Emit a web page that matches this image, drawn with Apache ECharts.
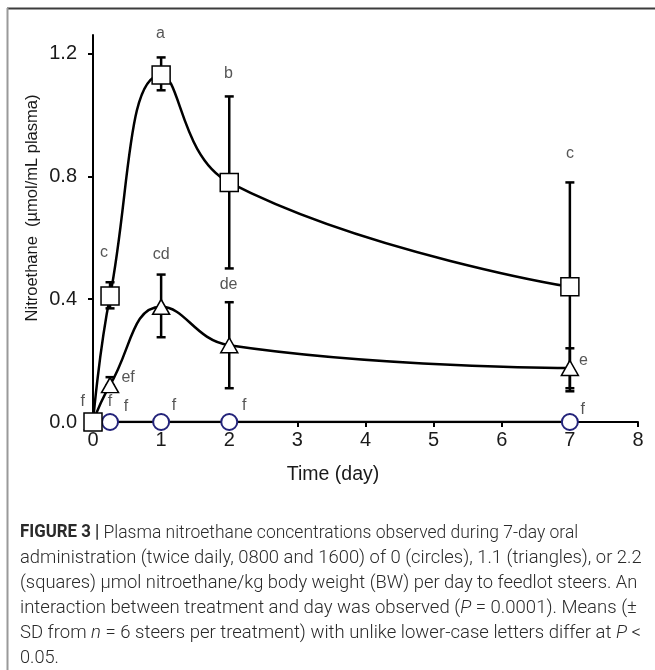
<!DOCTYPE html>
<html><head><meta charset="utf-8">
<script src="https://cdn.jsdelivr.net/npm/echarts@6/dist/echarts.min.js"></script>
<style>html,body{margin:0;padding:0;background:#fff}#c{width:655px;height:670px}</style>
</head><body><div id="c"></div>
<script>
// Time points (day)
const days = [0, 0.25, 1, 2, 7];
// Means (µmol/mL plasma)
const circles = [0, 0, 0, 0, 0];
const triangles = [0, 0.12, 0.375, 0.25, 0.176];
const squares = [0, 0.41, 1.13, 0.78, 0.44];
// SD error bar ends [low, high]
const triLow = [null, 0.12, 0.276, 0.11, 0.11];
const triHigh = [null, 0.146, 0.48, 0.39, 0.24];
const sqLow = [null, 0.37, 1.08, 0.50, 0.10];
const sqHigh = [null, 0.455, 1.187, 1.06, 0.78];
// Significance letters [x, y, text]
const letterX = [0.99, 1.99, 0.16, 1.0, 1.99, 0.515, -0.15, 0.25, 0.485, 1.19, 2.22, 7.19, 7.2, 7.0];
const letterY = [1.265, 1.135, 0.553, 0.546, 0.446, 0.146, 0.065, 0.065, 0.049, 0.052, 0.055, 0.039, 0.2, 0.875];
const letterText = ['a', 'b', 'c', 'cd', 'de', 'ef', 'f', 'f', 'f', 'f', 'f', 'f', 'e', 'c'];
// Axis ticks
const yTicks = [0, 0.4, 0.8, 1.2];
const captionLines = [
  [['b', 'FIGURE 3 | '], ['n', 'Plasma nitroethane concentrations observed during 7-day oral']],
  [['n', 'administration (twice daily, 0800 and 1600) of 0 (circles), 1.1 (triangles), or 2.2']],
  [['n', '(squares) \u00b5mol nitroethane/kg body weight (BW) per day to feedlot steers. An']],
  [['n', 'interaction between treatment and day was observed ('], ['i', 'P'], ['n', ' = 0.0001). Means (\u00b1']],
  [['n', 'SD from '], ['i', 'n'], ['n', ' = 6 steers per treatment) with unlike lower-case letters differ at '], ['i', 'P'], ['n', ' <']],
  [['n', '0.05.']]
];
// horizontal fit of each caption line (layout only)
const captionScale = [0.962, 1.012, 1.008, 1.02, 1.018, 1.0];

const chart = echarts.init(document.getElementById('c'), null, {renderer: 'canvas'});
const pairs = (ys) => days.map((d, i) => [d, ys[i]]);
const errData = [];
days.forEach((d, i) => {
  if (triLow[i] != null) errData.push([d, triLow[i], triHigh[i]]);
  if (sqLow[i] != null) errData.push([d, sqLow[i], sqHigh[i]]);
});
const FONT = 'Liberation Sans, Arial, sans-serif';
const CAP_FONT = 'Roboto, "Open Sans", sans-serif';

const graphics = [
  {type: 'line', shape: {x1: 7, y1: 8.5, x2: 655, y2: 8.5}, style: {stroke: '#3c3c3c', lineWidth: 2}},
  {type: 'line', shape: {x1: 7.5, y1: 8, x2: 7.5, y2: 670}, style: {stroke: '#9a9a9a', lineWidth: 2}},
  {type: 'text', x: 32, y: 208, rotation: Math.PI / 2, style: {text: 'Nitroethane  (\u00b5mol/mL plasma)', font: '16.5px ' + FONT, fill: '#1a1a1a', align: 'center', verticalAlign: 'middle'}},
  {type: 'text', x: 333, y: 475, style: {text: 'Time (day)', font: '19.5px ' + FONT, fill: '#1a1a1a', align: 'center', verticalAlign: 'middle'}}
];
captionLines.forEach((line, li) => {
  const text = line.map(([k, t]) => '{' + k + '|' + t + '}').join('');
  graphics.push({type: 'text', x: 20, y: 533 + li * 25, scaleX: captionScale[li], style: {
    text: text, verticalAlign: 'middle',
    rich: {
      b: {fontFamily: CAP_FONT, fontSize: 17.5, fontWeight: 'bold', fill: '#2a2a2a'},
      n: {fontFamily: CAP_FONT, fontSize: 18.2, fontWeight: 300, fill: '#2a2a2a'},
      i: {fontFamily: CAP_FONT, fontSize: 18.2, fontWeight: 300, fontStyle: 'italic', fill: '#2a2a2a'}
    }
  }});
});

chart.setOption({
  animation: false,
  backgroundColor: '#fff',
  grid: {left: 93, right: 17, top: 35, bottom: 248, containLabel: false},
  xAxis: {
    type: 'value', min: 0, max: 8, interval: 1,
    axisLine: {show: true, onZero: false, lineStyle: {color: '#000', width: 2}},
    axisTick: {show: true, inside: false, length: 5, lineStyle: {color: '#000', width: 2}},
    axisLabel: {fontFamily: FONT, fontSize: 20, color: '#1a1a1a', margin: 8},
    splitLine: {show: false}
  },
  yAxis: {
    type: 'value', min: 0, max: 1.26, interval: 0.4,
    axisLine: {show: true, onZero: false, lineStyle: {color: '#000', width: 2}},
    axisTick: {show: true, length: 5, customValues: yTicks, lineStyle: {color: '#000', width: 2}},
    axisLabel: {fontFamily: FONT, fontSize: 20, color: '#1a1a1a', margin: 16, customValues: yTicks, formatter: v => v.toFixed(1)},
    splitLine: {show: false}
  },
  graphic: graphics,
  series: [
    {
      type: 'custom', z: 1, data: errData, clip: false,
      renderItem: (params, api) => {
        const x = api.value(0);
        const lo = api.coord([x, api.value(1)]);
        const hi = api.coord([x, api.value(2)]);
        const w = 4.5;
        return {type: 'group', children: [
          {type: 'line', shape: {x1: lo[0], y1: lo[1], x2: hi[0], y2: hi[1]}, style: {stroke: '#000', lineWidth: 2.5}},
          {type: 'line', shape: {x1: lo[0] - w, y1: lo[1], x2: lo[0] + w, y2: lo[1]}, style: {stroke: '#000', lineWidth: 2.5}},
          {type: 'line', shape: {x1: hi[0] - w, y1: hi[1], x2: hi[0] + w, y2: hi[1]}, style: {stroke: '#000', lineWidth: 2.5}}
        ]};
      }
    },
    {
      type: 'line', z: 2, data: pairs(circles), symbol: 'circle', symbolSize: 16, showAllSymbol: true,
      lineStyle: {color: '#000', width: 2.5}, itemStyle: {color: '#fff', borderColor: '#23237a', borderWidth: 2}
    },
    {
      type: 'line', z: 3, data: pairs(triangles), smooth: 0.45, symbol: 'triangle', symbolSize: [17, 15], showAllSymbol: true,
      lineStyle: {color: '#000', width: 2.5}, itemStyle: {color: '#fff', borderColor: '#000', borderWidth: 1.5}
    },
    {
      type: 'line', z: 4, data: pairs(squares), smooth: 0.45, symbol: 'rect', symbolSize: 18, showAllSymbol: true,
      lineStyle: {color: '#000', width: 2.5}, itemStyle: {color: '#fff', borderColor: '#000', borderWidth: 1.5}
    },
    {
      type: 'scatter', z: 5, clip: false, symbolSize: 0, silent: true,
      data: letterX.map((x, i) => ({value: [x, letterY[i]], label: {formatter: letterText[i]}})),
      label: {show: true, position: 'inside', fontFamily: FONT, fontSize: 16, color: '#2a2a2a'}
    }
  ]
});
</script></body></html>
